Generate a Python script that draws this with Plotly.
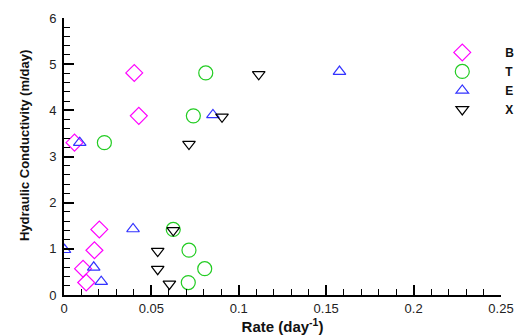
import plotly.graph_objects as go

series_names = ["B", "T", "E", "X"]
conductivity = [4.81, 3.88, 3.30, 1.42, 0.97, 0.57, 0.27]

rate_B = [0.0402, 0.0428, 0.0060, 0.0202, 0.0174, 0.0109, 0.0127]
rate_T = [0.0811, 0.0740, 0.0231, 0.0625, 0.0715, 0.0805, 0.0711]
rate_E = [0.1576, 0.0852, 0.0090, 0.0395, 0.0003, 0.0170, 0.0213]
rate_X = [0.1114, 0.0904, 0.0715, 0.0625, 0.0536, 0.0536, 0.0603]

k_E = [4.84, 3.90, 3.30, 1.43, 0.98, 0.60, 0.29]
k_X = [4.78, 3.86, 3.27, 1.40, 0.95, 0.56, 0.24]

x_title = "<b>Rate (day<sup>-1</sup>)</b>"
y_title = "<b>Hydraulic Conductivity (m/day)</b>"

styles = {
    "B": dict(symbol="diamond-open", color="#FF00FF", size=13),
    "T": dict(symbol="circle-open", color="#22CC22", size=14),
    "E": dict(symbol="triangle-up-open", color="#3333FF", size=11),
    "X": dict(symbol="triangle-down-open", color="#000000", size=11),
}

data = {
    "B": (rate_B, conductivity),
    "T": (rate_T, conductivity),
    "E": (rate_E, k_E),
    "X": (rate_X, k_X),
}

fig = go.Figure()
for name in series_names:
    xs, ys = data[name]
    s = styles[name]
    fig.add_trace(go.Scatter(
        x=xs, y=ys, mode="markers", name=name,
        marker=dict(symbol=s["symbol"], size=s["size"], color=s["color"],
                    line=dict(width=1.2, color=s["color"])),
    ))

axis_font = dict(family="Arial, Liberation Sans, sans-serif", size=13, color="#222222")

# The page body adds an 8px margin, so the figure is sized/offset to compensate.
fig.update_layout(
    width=521, height=327,
    margin=dict(l=56, r=16, t=10, b=40),
    paper_bgcolor="white", plot_bgcolor="white",
    showlegend=True,
    legend=dict(x=0.813, y=0.928, xanchor="left", yanchor="top",
                font=dict(family="Arial, Liberation Sans, sans-serif", size=12, color="#111111", weight="bold"),
                itemwidth=76, tracegroupgap=0, bgcolor="rgba(0,0,0,0)"),
    font=axis_font,
)
fig.add_annotation(
    text=y_title, xref="paper", yref="paper", x=-0.089, y=0.538,
    xanchor="center", yanchor="middle", textangle=-90, showarrow=False,
    font=dict(family="Arial, Liberation Sans, sans-serif", size=13, color="#111111"),
)
fig.update_xaxes(
    range=[0, 0.25], dtick=0.05, tick0=0, automargin=False,
    showgrid=False, zeroline=False,
    showline=True, linecolor="black", linewidth=2,
    ticks="inside", ticklen=10, tickwidth=2, tickcolor="black",
    minor=dict(dtick=0.01, ticks="inside", ticklen=6, tickwidth=1, tickcolor="black", showgrid=False),
    tickfont=axis_font,
    title=dict(text=x_title, standoff=3,
               font=dict(family="Arial, Liberation Sans, sans-serif", size=15, color="#111111")),
)
fig.update_yaxes(
    range=[0, 6], dtick=1, tick0=0, automargin=False,
    showgrid=False, zeroline=False,
    showline=True, linecolor="black", linewidth=2,
    ticks="inside", ticklen=10, tickwidth=2, tickcolor="black",
    minor=dict(dtick=0.2, ticks="inside", ticklen=6, tickwidth=1, tickcolor="black", showgrid=False),
    tickfont=axis_font, ticklabelstandoff=3,
)

fig.write_html("out.html")
